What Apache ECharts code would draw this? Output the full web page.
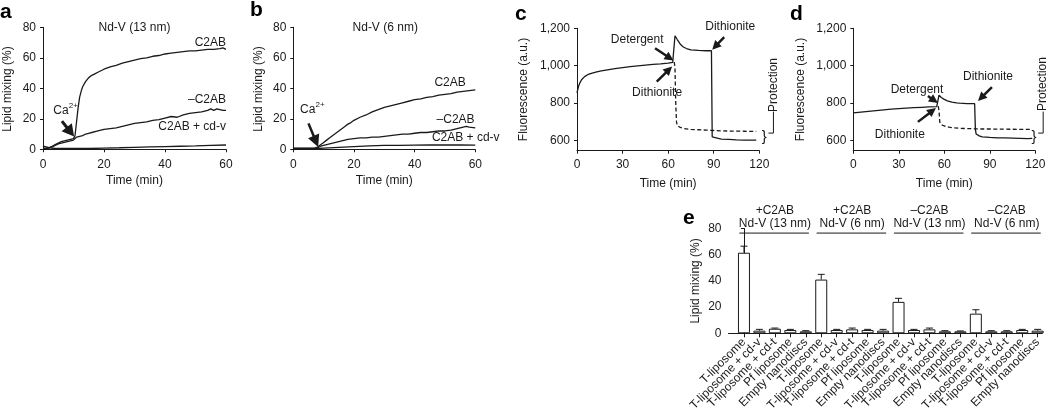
<!DOCTYPE html>
<html><head><meta charset="utf-8">
<script src="https://cdn.jsdelivr.net/npm/echarts@6/dist/echarts.min.js"></script>
<style>html,body{margin:0;padding:0;background:#fff}#c{width:1050px;height:418px}</style>
</head><body><div id="c"></div>
<script>
// ---------- Panel a: Nd-V (13 nm) ----------
const aC2AB = [[0,0.5],[1,0.5],[2,1],[3,2],[4,3],[5,4],[6,5],[7,5.5],[8,6],[9,6.5],[10,7],[10.5,9],[11,18],[11.5,27],[12,34],[12.5,38],[13,41],[14,44.5],[15,47],[16,48.5],[17,49.5],[18,50.5],[19,51.5],[20,52.5],[22,54],[24,55],[26,56.5],[28,57.5],[30,58.5],[32,59.5],[34,60],[36,61],[38,61.5],[40,62.5],[42,63],[44,63.5],[46,64],[48,64.5],[50,64.5],[52,65],[54,65.5],[56,65.5],[58,66],[59,66.5],[60,65.5]];
const aMinus = [[0,0.5],[1,0.5],[2,1],[3,1.5],[4,2.5],[5,3.5],[6,4],[7,4.5],[8,5],[9,5.5],[10,6],[11,8],[12,8.5],[13,9],[14,10],[15,10.5],[16,11],[18,12],[20,13],[22,13.5],[24,14],[26,15],[28,16],[30,17],[32,17.5],[34,18],[36,19],[38,19.5],[40,20.5],[42,21.5],[44,21],[46,22.5],[48,23.5],[50,24],[52,24.5],[54,25.5],[55,26.5],[56,25.5],[57,26.5],[58,26],[59,25.5],[60,25.5]];
const aCdv = [[0,2],[1,1.5],[2,1],[4,0.5],[6,0.5],[8,0.5],[10,0.5],[12,0.5],[15,0.5],[20,0.8],[25,1],[30,1.3],[35,1.6],[40,1.8],[45,2],[50,2.2],[55,2.5],[60,2.8]];
// ---------- Panel b: Nd-V (6 nm) ----------
const bC2AB = [[0,0.5],[2,0.5],[4,0.5],[6,0.5],[7,0.8],[8,1.5],[9,3],[10,4.5],[11,6],[12,7.5],[13,9],[14,10.5],[15,12],[16,13.5],[17,15],[18,16.5],[19,17.5],[20,19],[22,21],[24,22.5],[26,24.5],[28,26],[30,27.5],[32,28.5],[34,29.5],[36,30.5],[38,31.5],[40,32.5],[42,33],[44,34],[46,34.5],[48,35.5],[50,36],[52,36.5],[54,37.5],[56,38],[58,38.5],[60,39]];
const bMinus = [[0,0.5],[4,0.5],[7,0.5],[8,1],[9,2],[10,2.5],[12,3.5],[14,4.5],[16,5.5],[18,6.5],[20,7],[22,7.5],[24,7.5],[26,8],[28,8],[30,8.5],[32,9],[34,9.5],[36,10],[38,10],[40,10.5],[42,11],[44,11],[46,11.5],[48,12],[50,12],[52,12.5],[54,13.5],[56,14.5],[57,15],[58,14.5],[60,14]];
const bCdv = [[0,0.5],[8,0.5],[10,0.8],[15,1.3],[20,1.8],[25,2.2],[30,2.5],[35,2.6],[40,2.7],[45,2.8],[50,2.8],[55,2.9],[60,2.7]];
// ---------- Panel c ----------
const cSolid = [[0,855],[1,890],[2,910],[3,925],[4,935],[5,942],[7,952],[10,960],[13,967],[16,972],[20,978],[25,985],[30,990],[35,995],[40,999],[45,1003],[50,1007],[55,1010],[60,1014],[63,1018],[64,1020],[64.5,1160],[66,1140],[68,1115],[70,1100],[72,1092],[75,1085],[80,1082],[85,1080],[88.5,1080],[89,620],[90,612],[95,608],[100,606],[105,604],[110,603],[115,602],[118,603]];
const cDash = [[64,1020],[64.5,990],[65,800],[65.5,700],[66,680],[68,670],[70,665],[75,660],[80,658],[85,656],[90,654],[95,652],[100,651],[110,650],[118,649]];
// ---------- Panel d ----------
const dSolid = [[0,748],[5,752],[10,756],[15,760],[20,764],[25,768],[30,771],[35,774],[40,776],[45,778],[50,780],[55,782],[56,784],[56.5,843],[58,830],[60,820],[62,812],[65,806],[68,802],[70,800],[75,798],[80,797],[80.5,660],[81,635],[83,625],[85,620],[90,617],[95,615],[100,614],[105,613],[110,612],[115,611],[118,612]];
const dDash = [[56,784],[56.5,760],[57,700],[58,685],[60,678],[63,672],[66,668],[70,666],[75,664],[80,663],[85,662],[90,662],[100,661],[110,660],[118,660]];
// ---------- Panel e ----------
const eCats = ["T-liposome","T-liposome + cd-v","T-liposome + cd-t","Pf liposome","Empty nanodiscs",
               "T-liposome","T-liposome + cd-v","T-liposome + cd-t","Pf liposome","Empty nanodiscs",
               "T-liposome","T-liposome + cd-v","T-liposome + cd-t","Pf liposome","Empty nanodiscs",
               "T-liposome","T-liposome + cd-v","T-liposome + cd-t","Pf liposome","Empty nanodiscs"];
const eVals = [61.5,2,3.5,2.5,1.5, 41,2.5,3,2.5,2, 24,2.5,3,1.5,1.5, 15,1.5,1.5,2.5,2];
const eErr  = [5,1,0.5,0.5,0.5, 4,0.5,1,0.5,1, 2.7,0.5,1,0.5,0.3, 3,0.5,0.5,0.5,1];
const eGroupTop = ["+C2AB","+C2AB","–C2AB","–C2AB"];
const eGroupBottom = ["Nd-V (13 nm)","Nd-V (6 nm)","Nd-V (13 nm)","Nd-V (6 nm)"];
const abTicks = [0,20,40,60,80];
const cdTicks = [600,800,1000,1200];

const FONT = "'Liberation Sans', Arial, sans-serif";
const INK = '#1a1a1a';
const chart = echarts.init(document.getElementById('c'), null, {renderer:'canvas'});

function xAx(g, min, max, interval, name, gap){
  return {gridIndex:g, type:'value', min, max, interval, name, nameLocation:'middle', nameGap:gap,
    nameTextStyle:{fontFamily:FONT, fontSize:12, color:INK},
    axisLine:{lineStyle:{color:INK, width:1}}, axisTick:{length:3, lineStyle:{color:INK}},
    axisLabel:{fontFamily:FONT, fontSize:12, color:INK, margin:8}, splitLine:{show:false}};
}
function yAx(g, min, max, ticks, name, gap, fmt){
  return {gridIndex:g, type:'value', min, max, name, nameLocation:'middle', nameGap:gap,
    nameTextStyle:{fontFamily:FONT, fontSize:12, color:INK},
    axisLine:{show:true, lineStyle:{color:INK, width:1}},
    axisTick:{show:true, length:3, lineStyle:{color:INK}, customValues:ticks},
    axisLabel:{fontFamily:FONT, fontSize:12, color:INK, margin:7, customValues:ticks, formatter:fmt},
    splitLine:{show:false}};
}
const thousand = v => v>=1000 ? (Math.floor(v/1000)+','+String(v%1000).padStart(3,'0')) : String(v);
function line(g, data, dashed){
  return {type:'line', xAxisIndex:g, yAxisIndex:g, data, showSymbol:false, symbol:'none', silent:true,
    lineStyle:{color:INK, width:1.3, type: dashed ? [4,2.5] : 'solid'}};
}
const eIdx = eCats.map((c,i)=>i);
// empty guard labels at both ends so that no real label is dropped by the min/max overlap rule
const eLabelPos = [-1].concat(eIdx, [19.25]);

chart.setOption({
  animation:false,
  grid:[
    {left:43, top:27.3, width:183, height:123.5},
    {left:293.3, top:27.3, width:182, height:123.5},
    {left:577, top:28.3, width:182.3, height:122.4},
    {left:853.3, top:28.3, width:182, height:122.4},
    {left:728.5, top:228.5, width:313.8, height:104.8}
  ],
  xAxis:[
    xAx(0,0,60,20,'Time (min)',24),
    xAx(1,0,60,20,'Time (min)',24),
    xAx(2,0,120,30,'Time (min)',27),
    xAx(3,0,120,30,'Time (min)',27),
    {gridIndex:4, type:'value', min:-1, max:19.3,
      axisLine:{lineStyle:{color:INK}}, splitLine:{show:false},
      axisTick:{length:4, lineStyle:{color:INK}, customValues:eIdx},
      axisLabel:{fontFamily:FONT, fontSize:12, color:INK, rotate:45, margin:7, hideOverlap:false,
        customValues:eLabelPos,
        formatter:v=>{ const i=Math.round(v); return (Math.abs(v-i)<1e-6 && i>=0 && i<eCats.length) ? eCats[i] : ''; }}}
  ],
  yAxis:[
    yAx(0,-1,80,abTicks,'Lipid mixing (%)',29),
    yAx(1,-1,80,abTicks,'Lipid mixing (%)',29),
    yAx(2,546,1200,cdTicks,'Fluorescence (a.u.)',47,thousand),
    yAx(3,546,1200,cdTicks,'Fluorescence (a.u.)',47,thousand),
    yAx(4,0,80,abTicks,'Lipid mixing (%)',27)
  ],
  series:[
    line(0,aCdv), line(0,aMinus), line(0,aC2AB),
    line(1,bCdv), line(1,bMinus), line(1,bC2AB),
    line(2,cDash,true), line(2,cSolid),
    line(3,dDash,true), line(3,dSolid),
    {type:'bar', xAxisIndex:4, yAxisIndex:4, barWidth:12, data:eVals.map((v,i)=>[i,v]),
      itemStyle:{color:'#fff', borderColor:INK, borderWidth:1}, silent:true},
    {type:'custom', xAxisIndex:4, yAxisIndex:4, data:eVals.map((v,i)=>[i,v,eErr[i]]), silent:true,
      renderItem:(params, api)=>{
        const x=api.value(0), v=api.value(1), e=api.value(2);
        const p0=api.coord([x,v]), p1=api.coord([x,v+e]);
        const hw=3.5;
        return {type:'group', children:[
          {type:'line', shape:{x1:p0[0],y1:p0[1],x2:p1[0],y2:p1[1]}, style:{stroke:INK,lineWidth:1}},
          {type:'line', shape:{x1:p1[0]-hw,y1:p1[1],x2:p1[0]+hw,y2:p1[1]}, style:{stroke:INK,lineWidth:1}}
        ]};
      }}
  ]
});

// ---------- annotations (data coordinates converted to pixels) ----------
function P(g,x,y){ return chart.convertToPixel({gridIndex:g},[x,y]); }
const G = [];
function txt(g,x,y,text,align,size,extra){
  const p=P(g,x,y);
  G.push(Object.assign({type:'text', x:p[0], y:p[1], silent:true,
    style:{text, fontFamily:FONT, fontSize:size||12, fill:INK, align:align||'center', verticalAlign:'middle'}}, extra||{}));
}
function arrow(g, from, to, head, half, w){
  const a=P(g,from[0],from[1]), b=P(g,to[0],to[1]);
  const dx=b[0]-a[0], dy=b[1]-a[1], L=Math.hypot(dx,dy), ux=dx/L, uy=dy/L;
  const bx=b[0]-ux*head, by=b[1]-uy*head, nx=-uy, ny=ux;
  G.push({type:'line', silent:true, shape:{x1:a[0],y1:a[1],x2:bx+ux*1,y2:by+uy*1}, style:{stroke:INK,lineWidth:w}});
  G.push({type:'polygon', silent:true, shape:{points:[[b[0],b[1]],[bx+nx*half,by+ny*half],[bx-nx*half,by-ny*half]]}, style:{fill:INK}});
}
function ca(g,x,y){
  const p=P(g,x,y);
  G.push({type:'text', x:p[0], y:p[1], silent:true, style:{text:'Ca', fontFamily:FONT, fontSize:12, fill:INK, align:'left', verticalAlign:'middle'}});
  G.push({type:'text', x:p[0]+15.5, y:p[1]-5, silent:true, style:{text:'2+', fontFamily:FONT, fontSize:8, fill:INK, align:'left', verticalAlign:'middle'}});
}
// panel a
txt(0,30,80,'Nd-V (13 nm)');
txt(0,60,69.7,'C2AB','right');
txt(0,60,32.3,'–C2AB','right');
txt(0,60,14.6,'C2AB + cd-v','right');
ca(0,3.4,25.5);
arrow(0,[6.2,18.5],[10.2,8.3],12,6.5,3);
// panel b
txt(1,30.3,80,'Nd-V (6 nm)');
txt(1,51.7,43.5,'C2AB');
txt(1,53.5,19.5,'–C2AB');
txt(1,45.7,7.5,'C2AB + cd-v','left');
ca(1,2.2,25.8);
arrow(1,[5,17],[8.2,1.5],12,6,2.5);
// panel c
txt(2,39.6,1139,'Detergent');
arrow(2,[51.4,1093],[63.5,1028],9,4.5,2.5);
txt(2,52.7,854,'Dithionite');
arrow(2,[52.5,915],[62.6,996],9,4.5,2.5);
txt(2,100.9,1206,'Dithionite');
arrow(2,[96.9,1153],[89,1086],9,4.5,2.5);
txt(2,123.3,622,'}','center',15);
txt(2,129.2,897,'Protection','center',12,{rotation:Math.PI/2});
// panel d
txt(3,42,870,'Detergent');
arrow(3,[49.2,838],[55.8,801],9,4.5,2.5);
txt(3,30.7,630,'Dithionite');
arrow(3,[42.6,700],[54.5,774],9,4.5,2.5);
txt(3,88.8,940,'Dithionite');
arrow(3,[91.4,886],[82.2,812],9,4.5,2.5);
txt(3,119.1,622,'}','center',15);
txt(3,125.1,902,'Protection','center',12,{rotation:Math.PI/2});
// protection brackets
[[2,129.3],[3,125.2]].forEach(([g,t])=>{
  const top=P(g,t,755), bot=P(g,t,640);
  G.push({type:'polyline', silent:true, shape:{points:[[top[0],top[1]],[bot[0],bot[1]],[bot[0]-5,bot[1]]]}, style:{stroke:INK,lineWidth:1,fill:null}});
});
// panel e group labels
for(let g=0; g<4; g++){
  txt(4,5*g+2,93.4,eGroupTop[g],'center',12);
  txt(4,5*g+2,83.6,eGroupBottom[g],'center',12);
  const l=P(4,5*g-0.3,76.5), r=P(4,5*g+4.2,76.5);
  G.push({type:'line', silent:true, shape:{x1:l[0],y1:l[1],x2:r[0],y2:r[1]}, style:{stroke:INK,lineWidth:1}});
}
// panel letters
[['a',0,2],['b',250,0],['c',515,4],['d',790,3.5],['e',683,208]].forEach(([t,x,y])=>{
  G.push({type:'text', x, y, silent:true, style:{text:t, fontFamily:FONT, fontSize:21, fontWeight:'bold', fill:'#000', align:'left', verticalAlign:'top'}});
});
chart.setOption({graphic:{elements:G}});
</script></body></html>
